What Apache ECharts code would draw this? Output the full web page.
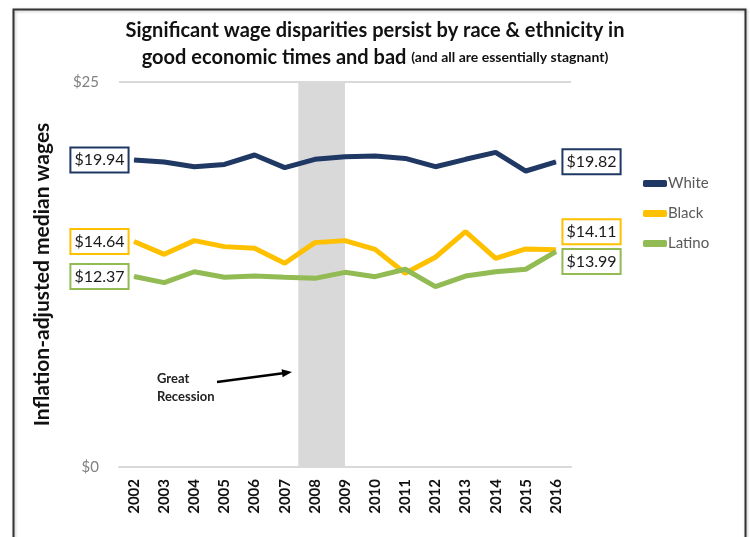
<!DOCTYPE html>
<html>
<head>
<meta charset="utf-8">
<script src="https://cdn.jsdelivr.net/npm/echarts@6/dist/echarts.min.js"></script>
<style>html,body{margin:0;padding:0;background:#fff}#c{width:750px;height:537px}</style>
</head>
<body>
<div id="c"></div>
<script>
const years = ['2002','2003','2004','2005','2006','2007','2008','2009','2010','2011','2012','2013','2014','2015','2016'];
const white  = [19.94,19.81,19.50,19.65,20.26,19.44,19.98,20.15,20.19,20.04,19.50,19.98,20.43,19.22,19.82];
const black  = [14.64,13.81,14.70,14.31,14.20,13.23,14.57,14.70,14.13,12.58,13.62,15.28,13.55,14.16,14.11];
const latino = [12.37,11.97,12.68,12.32,12.40,12.32,12.25,12.64,12.36,12.84,11.71,12.40,12.68,12.84,13.99];
const recession = [2007.45, 2009.0];
const yTicks = [0, 25];

const FONT = 'Lato, "Open Sans", sans-serif';
const chart = echarts.init(document.getElementById('c'), null, {renderer:'canvas'});

function mkData(arr, color, lastOffset) {
  return arr.map((v, i) => {
    if (i === 0 || i === arr.length - 1) {
      return {
        value: v,
        label: {
          show: true,
          position: i === 0 ? 'left' : 'right',
          distance: i === 0 ? 6 : 7,
          offset: i === 0 ? [0, 0] : lastOffset,
          formatter: p => '$' + p.value.toFixed(2),
          color: '#1a1a1a',
          fontFamily: FONT,
          fontSize: 16,
          backgroundColor: '#fff',
          borderColor: color,
          borderWidth: 2,
          padding: [4, 3, 3, 3]
        }
      };
    }
    return v;
  });
}

const colors = {White:'#1f3864', Black:'#ffc000', Latino:'#92bb54'};

function lineSeries(name, arr, off) {
  return {name, type: 'line', data: mkData(arr, colors[name], off),
    symbol: 'circle', symbolSize: 1, showSymbol: true, z: name === 'Black' ? 4 : 5,
    lineStyle: {width: 5, color: colors[name]}, itemStyle: {color: colors[name]}};
}

const option = {
  animation: false,
  backgroundColor: '#fff',
  title: {
    left: 'center',
    top: 12,
    text: 'Significant wage disparities persist by race & ethnicity in\n{a|good economic times and bad} {b|(and all are essentially stagnant)}',
    textStyle: {
      fontFamily: FONT, fontSize: 20, fontWeight: 'bold', color: '#111', lineHeight: 27,
      rich: {
        a: {fontFamily: FONT, fontSize: 20, fontWeight: 'bold', color: '#111', lineHeight: 27},
        b: {fontFamily: FONT, fontSize: 14, fontWeight: 'bold', color: '#111', lineHeight: 27}
      }
    }
  },
  legend: {
    orient: 'vertical',
    left: 638,
    top: 171,
    itemWidth: 24,
    itemHeight: 7,
    itemGap: 15,
    icon: 'roundRect',
    textStyle: {fontFamily: FONT, fontSize: 15, color: '#595959', padding: [0,0,0,-4]},
    data: ['White','Black','Latino']
  },
  grid: {left: 119, right: 179, top: 82, bottom: 70, containLabel: false},
  xAxis: [{
    type: 'category',
    data: years,
    boundaryGap: true,
    axisLine: {show: true, lineStyle: {color: '#d9d9d9', width: 2}},
    axisTick: {show: false},
    axisLabel: {rotate: 90, margin: 12, fontFamily: FONT, fontSize: 15, fontWeight: 'bold', color: '#111'}
  }, {
    type: 'value',
    min: 2001.5, max: 2016.5,
    show: false
  }],
  yAxis: {
    type: 'value',
    min: yTicks[0], max: yTicks[1], interval: 25,
    name: 'Inflation-adjusted median wages',
    nameLocation: 'middle',
    nameGap: 66,
    nameTextStyle: {fontFamily: FONT, fontSize: 21, fontWeight: 'bold', color: '#111'},
    axisLine: {show: false},
    axisTick: {show: false},
    axisLabel: {formatter: v => '$' + v, fontFamily: FONT, fontSize: 15, color: '#808080', margin: 20},
    splitLine: {lineStyle: {color: '#d9d9d9', width: 2}}
  },
  series: [
    {
      type: 'line', xAxisIndex: 1, data: [], silent: true, z: 1,
      markArea: {silent: true, itemStyle: {color: '#d9d9d9'}, data: [[{xAxis: recession[0]}, {xAxis: recession[1]}]]}
    },
    lineSeries('White', white, [0, 0]),
    lineSeries('Black', black, [0, -18]),
    lineSeries('Latino', latino, [0, 10])
  ],
  graphic: [
    {type: 'rect', left: 11, top: 7, z: 100, silent: true,
      shape: {width: 732, height: 560},
      style: {fill: 'none', stroke: '#333', lineWidth: 2, shadowColor: 'rgba(0,0,0,0.25)', shadowBlur: 3, shadowOffsetX: 1, shadowOffsetY: 1}},
    {type: 'text', left: 157, top: 370, z: 50,
      style: {text: 'Great\nRecession', fontFamily: FONT, fontSize: 13, fontWeight: 'bold', fill: '#222', lineHeight: 18}},
    {type: 'line', z: 50, shape: {x1: 217, y1: 382, x2: 283, y2: 373.2}, style: {stroke: '#000', lineWidth: 2.5}},
    {type: 'polygon', z: 50, shape: {points: [[292,372],[282.6,377.3],[281.6,369.3]]}, style: {fill: '#000'}}
  ]
};
chart.setOption(option);
</script>
</body>
</html>
